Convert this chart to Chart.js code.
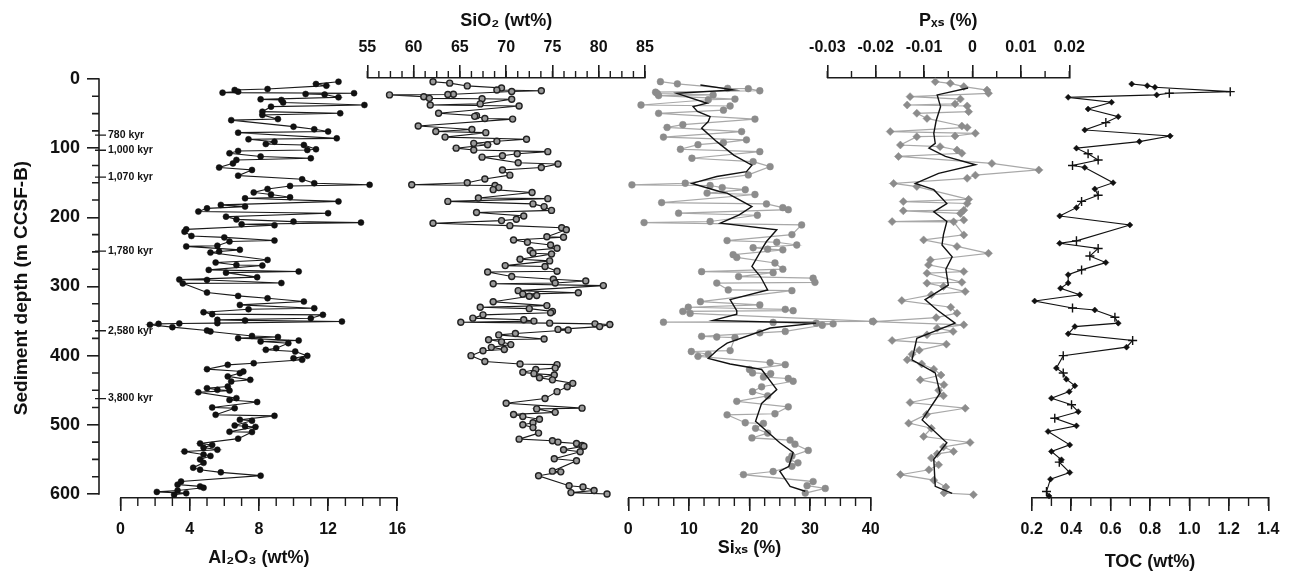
<!DOCTYPE html>
<html>
<head>
<meta charset="utf-8">
<script src="https://cdn.jsdelivr.net/npm/chart.js@4.4.1/dist/chart.umd.min.js"></script>
<style>
html,body{margin:0;padding:0;background:#fff;}
#wrap{position:relative;width:1297px;height:578px;overflow:hidden;}
#wrap canvas{position:absolute;left:0;top:0;}
</style>
</head>
<body>
<div id="wrap">
<canvas id="c0" width="1297" height="578"></canvas>
<canvas id="c1" width="1297" height="578"></canvas>
<canvas id="c2" width="1297" height="578"></canvas>
<canvas id="c3" width="1297" height="578"></canvas>
<canvas id="c4" width="1297" height="578"></canvas>
<canvas id="c5" width="1297" height="578"></canvas>
</div>
<script>
// ---------------- DATA ----------------
const depthTicks = [0, 100, 200, 300, 400, 500, 600];
const depthTickLabels = ['0', '100', '200', '300', '400', '500', '600'];
const ageDepth = [81, 103, 142, 249, 364, 462];
const ageLabel = ['780 kyr', '1,000 kyr', '1,070 kyr', '1,780 kyr', '2,580 kyr', '3,800 kyr'];

const alTicks = [0, 4, 8, 12, 16];
const alTickLabels = ['0', '4', '8', '12', '16'];
const sio2Ticks = [55, 60, 65, 70, 75, 80, 85];
const sio2TickLabels = ['55', '60', '65', '70', '75', '80', '85'];
const sixsTicks = [0, 10, 20, 30, 40];
const sixsTickLabels = ['0', '10', '20', '30', '40'];
const pxsTicks = [-0.03, -0.02, -0.01, 0, 0.01, 0.02];
const pxsTickLabels = ['-0.03', '-0.02', '-0.01', '0', '0.01', '0.02'];
const tocTicks = [0.2, 0.4, 0.6, 0.8, 1.0, 1.2, 1.4];
const tocTickLabels = ['0.2', '0.4', '0.6', '0.8', '1.0', '1.2', '1.4'];

const alDepth = [3.9,7.2,9.6,14.5,15.9,18.3,19.7,20.5,21.7,22.5,26.5,29.4,30.3,34,37.6,40,47.2,49.6,52,58,59.5,68.9,72.7,76,77.6,85.8,87.2,90.6,94,95.4,101.6,102.6,104,107.4,112,114.6,117,122,128,131.5,139.7,145,150.7,153,154.6,159,164,167,171,172.5,177,182,184.5,187,191.7,194,199,203,206.2,207.6,210,211.5,217.4,220.7,227,229,233.6,235,241,242,247,249.5,251,261.6,265.4,269,269.7,276,278.3,280,286.5,290,290.5,295,295.5,308.8,313.6,317,321.8,326.6,331.4,332.9,337.2,340,341,346,348.2,349,350.7,353,353.5,354,355.4,358.8,363.6,365,371.5,373,374.7,378.1,379.5,382,389.2,391.6,394,400.3,403.7,406,410.9,413.3,419.5,423,425.3,430,435,437.4,444.6,447,449.4,450.5,453,461.4,464,467,474.9,475.9,485.5,487,492.7,494,501,502,503,510,510.5,520,527,529,533,536,538.5,543,545,550,555,562,564.9,568.7,573.5,582,586.5,589,591,595,597,598.8,601];
const al = [12.6,11.3,11.9,8.5,6.6,6.8,5.9,13.5,10.7,11.8,12.6,8.1,9.3,9.4,14.1,8.7,8.2,12.7,8.2,9.1,6.4,10.0,11.2,12.0,6.8,12.5,7.4,8.9,8.4,10.6,11.3,10.8,6.8,6.3,8.1,11.0,6.7,6.5,5.7,7.6,6.8,10.5,11.2,14.4,9.8,8.5,7.7,8.7,9.8,7.2,12.6,5.8,7.2,5.0,4.5,12.0,6.1,6.7,10.0,13.9,7.0,8.9,3.8,3.7,4.1,6.0,8.9,6.3,5.6,3.8,6.9,5.7,5.2,8.5,5.5,6.7,8.2,5.1,10.3,6.1,7.9,3.4,5.0,9.3,3.6,5.0,6.8,8.5,10.6,6.9,11.2,7.4,4.8,5.3,11.7,11.0,5.6,7.2,12.8,5.6,3.4,2.2,1.7,3.0,5.0,5.2,7.6,9.1,6.8,10.3,8.1,9.7,9.0,8.4,10.1,10.8,10.0,10.5,7.7,6.2,5.0,7.1,6.9,6.2,7.5,6.4,6.2,5.0,5.6,6.3,4.5,6.7,6.3,7.9,5.3,6.6,5.5,8.9,6.9,7.6,6.6,7.2,7.8,6.3,7.6,6.8,4.6,5.3,4.8,5.6,3.7,4.8,5.2,4.6,4.8,4.2,4.6,5.8,8.1,3.5,3.3,4.6,4.8,3.3,2.1,3.8,3.1];

const sio2Depth = [3.9,6,10,13,16,17,18,22,22.5,23,25.6,28,28.5,29.2,36,37.6,39,49.6,53,54,57,58,68,73,76,77.6,84,87,90,93,95,100,102.6,105,108,111,113,121,123,128,131.5,139,144.5,150,153,154,157,160,164,172,173,177,180.6,184.5,190,193,198,202.8,204.7,208.6,212,215,218,228,228.8,232.7,236,240,244.7,248,252,253,260.5,263,269.8,271,278,279,285.6,289.5,292,295,296,298.7,306,309,311,313,314,322,327.6,330,332,336,338,341,345.8,348,350,351.6,353,354,355,358,362,363,368,370,376,377,380,384,388,391,393,400,408.5,412,413,418,420,424,426,428,432,435,440,445,452,462,468.7,475.9,477,482,485,488,492,497,500,504,512,520.7,523,525,527,530,531,536,539,549,552,567,568,573.7,588,590,595,598,600];
const sio2 = [62.1,63.9,65.8,69.5,69.0,73.8,70.6,64.3,63.7,57.4,61.1,61.7,67.4,70.6,67.2,61.8,71.4,62.7,66.8,66.6,67.7,70.7,60.5,66.3,62.4,67.8,63.4,72.2,69.0,66.5,68.0,64.6,66.5,74.5,71.2,69.6,67.4,71.3,75.6,73.8,69.6,70.4,67.7,65.8,59.8,68.8,69.2,68.6,72.8,67.0,74.5,63.7,72.9,74.1,74.9,66.8,71.9,71.1,69.5,62.1,70.4,76.0,76.5,74.4,76.2,70.8,72.3,74.8,75.5,72.6,72.9,74.9,71.5,74.7,69.9,74.2,75.5,68.0,70.6,75.1,78.6,75.3,68.6,80.5,71.3,77.8,71.8,73.3,72.5,68.6,74.4,67.2,72.5,75.0,74.8,67.5,66.4,71.9,73.0,65.1,74.7,79.6,81.2,80.1,75.6,76.7,71.0,69.2,74.1,68.1,69.5,70.5,68.4,69.8,67.5,66.2,67.7,71.5,75.5,75.3,73.2,71.8,73.0,75.2,73.6,75.0,77.2,76.6,75.5,74.2,70.0,78.2,73.3,75.3,70.8,71.8,73.6,72.9,71.8,72.9,73.5,71.4,75.0,75.6,77.6,78.2,78.4,76.2,78.0,75.2,77.6,75.0,75.9,73.5,76.8,78.3,79.5,77.0,80.9];

const sixsDepth = [3.9,7,13.5,14,17,19,21,23,24,29,30,37.6,39,45,49.6,58,66,70,76,84,88,92,95,101.6,105,114.6,119.5,126.7,138.7,150.7,153,154,157,160,165,167,178.7,180.6,186,189,194,197,206,207.6,211,225,233.6,236,240,244,246,247,254,258,266,275,278.5,280,285.6,288,294,295,305,306,322,326.6,330,333,335,336,339,350.5,351.6,352,353,354,356,365,367,372,373,374,392.6,394,398,401,410,413,420,425,426,431,433,437,445,452,458,466,474,484,485.5,497,498,505,512,519,522,528,537,545,550,555,560,567.5,572,582,588,592,598.7];
const sixs = [5.3,8.1,16.4,19.8,21.7,4.5,4.8,14.0,5.0,17.6,13.2,2.1,16.8,15.7,5.0,20.9,9.0,6.4,18.7,5.8,19.5,15.7,11.5,8.6,21.7,10.5,20.6,23.4,19.8,9.4,0.6,13.5,15.5,19.3,13.0,20.9,5.5,22.8,25.5,26.4,8.3,21.3,13.5,2.6,28.6,27.0,16.3,24.5,27.8,20.6,23.0,25.5,17.3,17.9,24.2,25.5,12.1,23.9,18.2,30.5,30.8,14.6,16.5,27.0,11.9,21.7,9.9,25.9,27.2,9.0,10.2,40.3,5.8,23.9,31.0,33.8,32.0,25.9,21.7,12.1,14.6,17.6,16.8,10.4,13.2,11.5,23.4,25.9,20.0,20.5,23.5,22.3,26.4,27.2,22.0,20.5,23.0,17.9,26.4,24.2,16.3,19.3,22.3,21.0,23.0,20.4,26.7,27.5,29.7,27.0,26.5,28.0,27.0,23.9,19.0,30.5,29.5,32.5,29.2];
const sixsSmDepth = [8.6,15.8,20.7,35,40,47,54.5,61.6,71,90.6,110,124.5,134,141,151,163,165,184.5,196.5,208.5,218,235,242,271,285.6,305,319,335,340,349,353,360,382,391,404,412,420,449,469,495,526,540,560,567,589,596];
const sixsSm = [11.9,17.4,8.0,13.0,10.7,11.4,13.5,13.2,12.1,14.6,17.4,20.4,19.5,14.6,10.5,15.2,16.3,20.4,18.3,15.2,24.5,22.8,22.3,20.4,21.8,23.0,16.8,17.9,17.9,14.0,31.0,23.4,16.3,14.8,13.2,16.8,22.0,24.5,22.0,21.0,25.0,27.2,26.5,25.0,26.7,29.2];

const pxsDepth = [3.9,6.3,11,16,20.7,25.5,29,36,37.6,39,47.2,49.6,57,68,70,76,78.5,82.4,83.4,95.4,97.8,102.6,107.4,112,122,131.5,139,143.6,151,155.5,174,177.2,180,189.6,190.6,194.4,204,206.2,206.5,225.4,232.6,242,252,261.6,268.8,278.4,280.8,294,295.2,300,307.3,312,320.3,330,338.6,345,350.7,355.4,360.3,365,369.9,378,383.4,392,398,406,412,419.5,428,435,442,450,458,467.7,476,485,497.6,505,516.9,525.5,532,538.5,541.9,548,557.8,565,572,580,590,598.6,601];
const pxs = [-0.0077,-0.0046,-0.0018,0.0030,0.0033,-0.0129,-0.0025,-0.0036,-0.0135,-0.0011,-0.0008,-0.0115,-0.0094,-0.0022,-0.0011,-0.0170,0.0006,-0.0036,-0.0115,-0.0149,-0.0067,-0.0032,-0.0022,-0.0153,0.0040,0.0137,0.0006,-0.0011,-0.0163,-0.0115,-0.0008,-0.0143,-0.0011,-0.0018,-0.0143,-0.0025,-0.0018,-0.0166,-0.0039,-0.0018,-0.0101,-0.0032,0.0033,-0.0087,-0.0091,-0.0018,-0.0094,-0.0022,-0.0094,-0.0060,-0.0015,-0.0085,-0.0146,-0.0045,-0.0032,-0.0075,-0.0204,-0.0018,-0.0073,-0.0040,-0.0094,-0.0166,-0.0054,-0.0110,-0.0125,-0.0135,-0.0105,-0.0080,-0.0065,-0.0108,-0.0059,-0.0070,-0.0060,-0.0129,-0.0015,-0.0095,-0.0132,-0.0085,-0.0101,-0.0005,-0.0060,-0.0039,-0.0073,-0.0085,-0.0070,-0.0090,-0.0149,-0.0080,-0.0055,-0.0059,0.0002];
const pxsSmDepth = [13,23,40,60,78.5,93,100,112,124,136.5,151,160,180,192,206,225,240,257,275,298,319,334,353,375,406,425,454,493,526,550,589,599];
const pxsSm = [-0.0009,-0.0073,-0.0066,-0.0075,-0.0080,-0.0077,-0.0090,-0.0056,0.0006,-0.0070,-0.0118,-0.0080,-0.0053,-0.0080,-0.0053,-0.0060,-0.0063,-0.0042,-0.0055,-0.0050,-0.0098,-0.0073,-0.0036,-0.0115,-0.0125,-0.0077,-0.0067,-0.0104,-0.0053,-0.0080,-0.0077,-0.0042];

const tocDepth = [7.2,9.6,12,18.3,20.7,23,26.5,33.7,43.4,54.4,63,73.7,82.4,90.5,100,108,117,125,128,150,159,168,177,186,198,211,234,237.5,245,256,265.4,276,283,295,302.5,312,321,331,334,344.5,353,358,368.5,378,387.7,400,418,425,434,443.6,452,461.5,471,481,490.5,501.5,509.6,529,538.5,550.5,554,569,578.6,596.5,603];
const toc = [0.707,0.786,0.825,1.207,0.898,0.834,0.385,0.605,0.486,0.639,0.576,0.469,0.902,0.746,0.427,0.486,0.537,0.407,0.469,0.613,0.52,0.537,0.453,0.427,0.342,0.698,0.427,0.342,0.537,0.495,0.576,0.453,0.385,0.385,0.346,0.444,0.215,0.407,0.52,0.622,0.639,0.419,0.385,0.712,0.681,0.36,0.325,0.36,0.376,0.419,0.39,0.3,0.402,0.436,0.317,0.427,0.283,0.393,0.3,0.351,0.34,0.393,0.295,0.275,0.288];
const tocMethod = ['d','d','d','c','c','d','d','d','d','d','c','d','d','d','d','c','c','c','d','d','d','c','c','d','d','d','c','d','c','c','d','c','d','d','d','d','d','c','d','c','d','d','d','c','d','c','d','c','d','d','d','d','c','d','c','d','d','d','d','d','c','d','d','c','d'];

// ---------------- STYLE / LAYOUT ----------------
const W = 1297;
const FONT = "'Liberation Sans', Arial, Helvetica, sans-serif";
const TFONT = "'Liberation Sans', 'DejaVu Sans', Arial, sans-serif";
const AX = '#1c1c1c';
const TXT = '#111';
const Y_MIN = -1.45, Y_MAX = 605.8;
Chart.defaults.font.family = FONT;
Chart.defaults.color = TXT;

const toXY = (xs, ys) => xs.map((x, i) => ({x: x, y: ys[i]}));

function minorTicks(from, to, step, len) {
  return {
    id: 'minorTicks',
    afterDraw(chart) {
      const s = chart.scales.x, ctx = chart.ctx;
      const top = s.position === 'top';
      const y0 = top ? s.bottom : s.top;
      ctx.save();
      ctx.strokeStyle = AX; ctx.lineWidth = 1.4;
      ctx.beginPath();
      const n = Math.round((to - from) / step);
      for (let i = 0; i <= n; i++) {
        const x = s.getPixelForValue(from + i * step);
        ctx.moveTo(x, y0); ctx.lineTo(x, top ? y0 - len : y0 + len);
      }
      ctx.stroke();
      ctx.restore();
    }
  };
}

function makePanel(id, p) {
  const isTop = p.position === 'top';
  return new Chart(document.getElementById(id), {
    type: 'scatter',
    data: { datasets: p.datasets },
    options: {
      responsive: false, animation: false, devicePixelRatio: 1, events: [],
      layout: { padding: { left: p.left, right: W - p.right, top: isTop ? 8 : 78, bottom: isTop ? 80 : 0 } },
      plugins: { legend: { display: false }, tooltip: { enabled: false } },
      scales: {
        x: {
          type: 'linear', position: p.position, min: p.ticks[0], max: p.ticks[p.ticks.length - 1],
          afterBuildTicks: s => { s.ticks = p.ticks.map(v => ({ value: v })); },
          afterFit: s => { s.height = isTop ? 70 : 80; },
          ticks: { autoSkip: false, maxRotation: 0, padding: isTop ? 7.5 : 9.4,
                   font: { size: 16, weight: 'bold' }, color: TXT,
                   callback: (v, i) => p.labels[i] },
          grid: { display: true, drawOnChartArea: false, drawTicks: true, tickLength: 13, color: AX, lineWidth: 1.6 },
          border: { display: true, color: AX, width: 1.6 },
          title: { display: true, text: p.title, color: TXT,
                   font: { size: 18, weight: 'bold', family: TFONT },
                   padding: isTop ? { top: p.titlePad, bottom: 0 } : { top: 0, bottom: p.titlePad } }
        },
        y: { type: 'linear', display: false, reverse: true, min: Y_MIN, max: Y_MAX }
      }
    },
    plugins: [minorTicks(p.ticks[0], p.ticks[p.ticks.length - 1], p.minorStep, isTop ? 7 : 8)]
  });
}

// ---------------- Y AXIS (shared) ----------------
const yAxisExtras = {
  id: 'yAxisExtras',
  afterDraw(chart) {
    const s = chart.scales.y, ctx = chart.ctx, x = s.right;
    const d0 = depthTicks[0], d1 = depthTicks[depthTicks.length - 1];
    ctx.save();
    ctx.strokeStyle = AX; ctx.lineWidth = 1.6; ctx.lineCap = 'square';
    ctx.beginPath();
    ctx.moveTo(x, s.getPixelForValue(d0)); ctx.lineTo(x, s.getPixelForValue(d1));
    ctx.stroke();
    ctx.lineCap = 'butt';
    ctx.beginPath();
    for (let v = d0; v <= d1; v += 25) {
      if (v % 100 === 0) continue;
      const y = s.getPixelForValue(v);
      ctx.moveTo(x - 7, y); ctx.lineTo(x, y);
    }
    ctx.stroke();
    ctx.lineWidth = 1.3;
    ctx.beginPath();
    ageDepth.forEach(d => { const y = s.getPixelForValue(d); ctx.moveTo(x - 4, y); ctx.lineTo(x + 7, y); });
    ctx.stroke();
    ctx.fillStyle = TXT;
    ctx.font = 'bold 10.5px ' + FONT;
    ctx.textBaseline = 'middle'; ctx.textAlign = 'left';
    ageDepth.forEach((d, i) => ctx.fillText(ageLabel[i], x + 9, s.getPixelForValue(d)));
    ctx.restore();
  }
};

new Chart(document.getElementById('c0'), {
  type: 'scatter',
  data: { datasets: [] },
  options: {
    responsive: false, animation: false, devicePixelRatio: 1, events: [],
    layout: { padding: { left: 0, right: W - 200, top: 78, bottom: 80 } },
    plugins: { legend: { display: false }, tooltip: { enabled: false } },
    scales: {
      x: { type: 'linear', display: false, min: 0, max: 1 },
      y: {
        type: 'linear', position: 'left', reverse: true, min: Y_MIN, max: Y_MAX,
        afterBuildTicks: s => { s.ticks = depthTicks.map(v => ({ value: v })); },
        afterFit: s => { s.width = 99; },
        ticks: { autoSkip: false, padding: 7, font: { size: 18, weight: 'bold' }, color: TXT,
                 callback: (v, i) => depthTickLabels[i] },
        grid: { display: true, drawOnChartArea: false, drawTicks: true, tickLength: 12, color: AX, lineWidth: 1.6 },
        border: { display: false },
        title: { display: true, text: 'Sediment depth (m CCSF-B)', color: TXT,
                 font: { size: 19, weight: 'bold' }, padding: { top: 10.6, bottom: 0 } }
      }
    }
  },
  plugins: [yAxisExtras]
});

// ---------------- PANELS ----------------
makePanel('c1', {
  position: 'bottom', left: 120.5, right: 397.3, ticks: alTicks, labels: alTickLabels, minorStep: 1,
  title: 'Al₂O₃ (wt%)', titlePad: 9,
  datasets: [{
    data: toXY(al, alDepth), showLine: true, borderColor: '#1a1a1a', borderWidth: 1.1,
    pointRadius: 3, pointBackgroundColor: '#111', pointBorderColor: '#111', pointBorderWidth: 0.5, clip: false
  }]
});

makePanel('c2', {
  position: 'top', left: 367.3, right: 645, ticks: sio2Ticks, labels: sio2TickLabels, minorStep: 1.25,
  title: 'SiO₂ (wt%)', titlePad: 2.7,
  datasets: [{
    data: toXY(sio2, sio2Depth), showLine: true, borderColor: '#1a1a1a', borderWidth: 1.1,
    pointRadius: 3, pointBackgroundColor: '#9a9a9a', pointBorderColor: '#222', pointBorderWidth: 1.4, clip: false
  }]
});

makePanel('c3', {
  position: 'bottom', left: 628.3, right: 870.7, ticks: sixsTicks, labels: sixsTickLabels, minorStep: 2.5,
  title: 'Siₓₛ (%)', titlePad: 19,
  datasets: [{
    data: toXY(sixs, sixsDepth), showLine: true, borderColor: '#a8a8a8', borderWidth: 1.2,
    pointRadius: 3.4, pointBackgroundColor: '#8c8c8c', pointBorderColor: '#8c8c8c', pointBorderWidth: 0.5,
    clip: false, order: 2
  }, {
    data: toXY(sixsSm, sixsSmDepth), showLine: true, borderColor: '#111', borderWidth: 1.4,
    pointRadius: 0, clip: false, order: 1
  }]
});

makePanel('c4', {
  position: 'top', left: 827.3, right: 1069.3, ticks: pxsTicks, labels: pxsTickLabels, minorStep: 0.005,
  title: 'Pₓₛ (%)', titlePad: 2.7,
  datasets: [{
    data: toXY(pxs, pxsDepth), showLine: true, borderColor: '#a8a8a8', borderWidth: 1.2,
    pointStyle: 'rectRot', pointRadius: 4, pointBackgroundColor: '#8c8c8c', pointBorderColor: '#8c8c8c',
    pointBorderWidth: 0.5, clip: false, order: 2
  }, {
    data: toXY(pxsSm, pxsSmDepth), showLine: true, borderColor: '#111', borderWidth: 1.4,
    pointRadius: 0, clip: false, order: 1
  }]
});

makePanel('c5', {
  position: 'bottom', left: 1031.7, right: 1268.3, ticks: tocTicks, labels: tocTickLabels, minorStep: 0.1,
  title: 'TOC (wt%)', titlePad: 5.5,
  datasets: [{
    data: toXY(toc, tocDepth), showLine: true, borderColor: '#111', borderWidth: 1.1,
    pointStyle: ctx => tocMethod[ctx.dataIndex] === 'c' ? 'cross' : 'rectRot',
    pointRadius: ctx => tocMethod[ctx.dataIndex] === 'c' ? 4.5 : 3,
    pointBorderWidth: ctx => tocMethod[ctx.dataIndex] === 'c' ? 1.4 : 0.5,
    pointBackgroundColor: '#111', pointBorderColor: '#111', clip: false
  }]
});
</script>
</body>
</html>
